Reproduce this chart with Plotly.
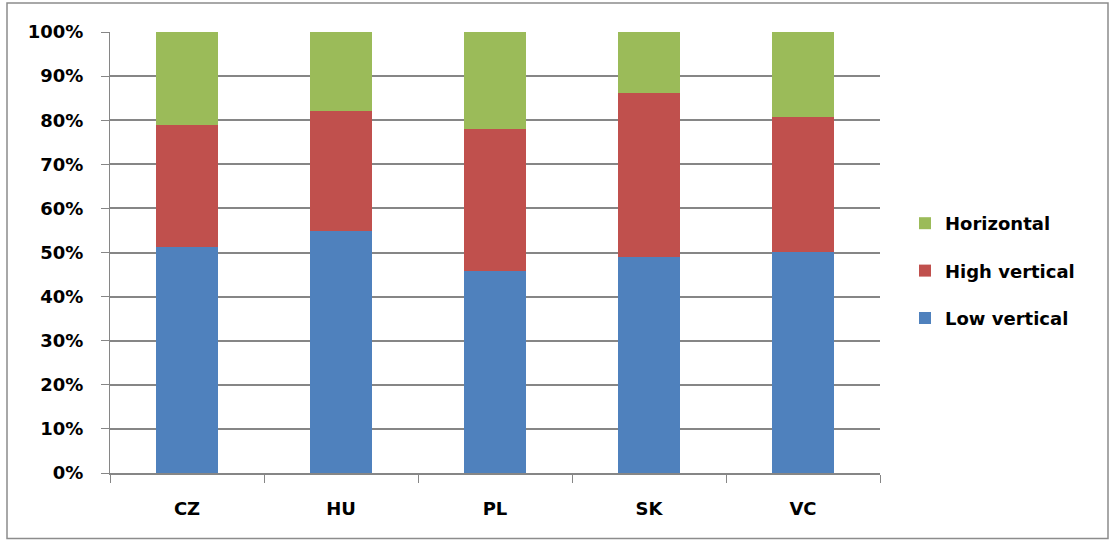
import plotly.graph_objects as go

categories = ["CZ", "HU", "PL", "SK", "VC"]
low_vertical = [51.3, 54.8, 45.7, 48.9, 50.1]
high_vertical = [27.6, 27.3, 32.4, 37.3, 30.7]
horizontal = [21.1, 17.9, 21.9, 13.8, 19.2]
y_ticks = [0, 10, 20, 30, 40, 50, 60, 70, 80, 90, 100]
y_tick_labels = [f"{v}%" for v in y_ticks]

FONT = "DejaVu Sans"
GRID = "#868686"

fig = go.Figure()
for name, vals, color, rank in [
    ("Low vertical", low_vertical, "#4F81BD", 3),
    ("High vertical", high_vertical, "#C0504D", 2),
    ("Horizontal", horizontal, "#9BBB59", 1),
]:
    fig.add_trace(go.Bar(
        x=categories, y=vals, name=name, legendgroup=name, legendrank=rank,
        marker=dict(color=color, line=dict(width=0)),
        width=0.4,
    ))

W, H = 1110, 540
L, R, T, B = 110, 230, 32, 67
pw, ph = W - L - R, H - T - B

fig.update_layout(
    width=W, height=H,
    barmode="stack",
    plot_bgcolor="white", paper_bgcolor="white",
    margin=dict(l=L, r=R, t=T, b=B),
    font=dict(family=FONT, size=18, color="black"),
    showlegend=True,
    legend=dict(
        x=(905 - L) / pw, y=(473 - 205) / ph, xanchor="left", yanchor="top",
        traceorder="grouped", tracegroupgap=21,
        font=dict(family=FONT, size=18, color="black", weight="bold"),
        itemwidth=30, bgcolor="rgba(0,0,0,0)",
    ),
    xaxis=dict(
        type="category", tickson="boundaries", ticks="outside", ticklen=8,
        tickcolor=GRID, tickwidth=1,
        showline=True, linecolor=GRID, linewidth=1.5,
        showgrid=False, ticklabelstandoff=19,
        tickfont=dict(family=FONT, size=18, weight="bold"),
    ),
    yaxis=dict(
        range=[0, 100], tickvals=y_ticks, ticktext=y_tick_labels,
        ticks="outside", ticklen=8, tickcolor=GRID, tickwidth=1,
        showline=True, linecolor=GRID, linewidth=1,
        showgrid=True, gridcolor=GRID, gridwidth=1.5,
        zeroline=False, ticklabelstandoff=14,
        tickfont=dict(family=FONT, size=18, weight="bold"),
    ),
    shapes=[dict(
        type="rect", xref="paper", yref="paper",
        x0=(7 - L) / pw, x1=(1108 - L) / pw,
        y0=(473 - 538.5) / ph, y1=(473 - 3) / ph,
        line=dict(color="#8C8C8C", width=1.5), fillcolor="rgba(0,0,0,0)",
        layer="below",
    )],
)

fig.write_html(
    "out.html",
    config={"displayModeBar": False},
    post_script="document.body.style.margin='0px';document.body.style.overflow='hidden';",
)
